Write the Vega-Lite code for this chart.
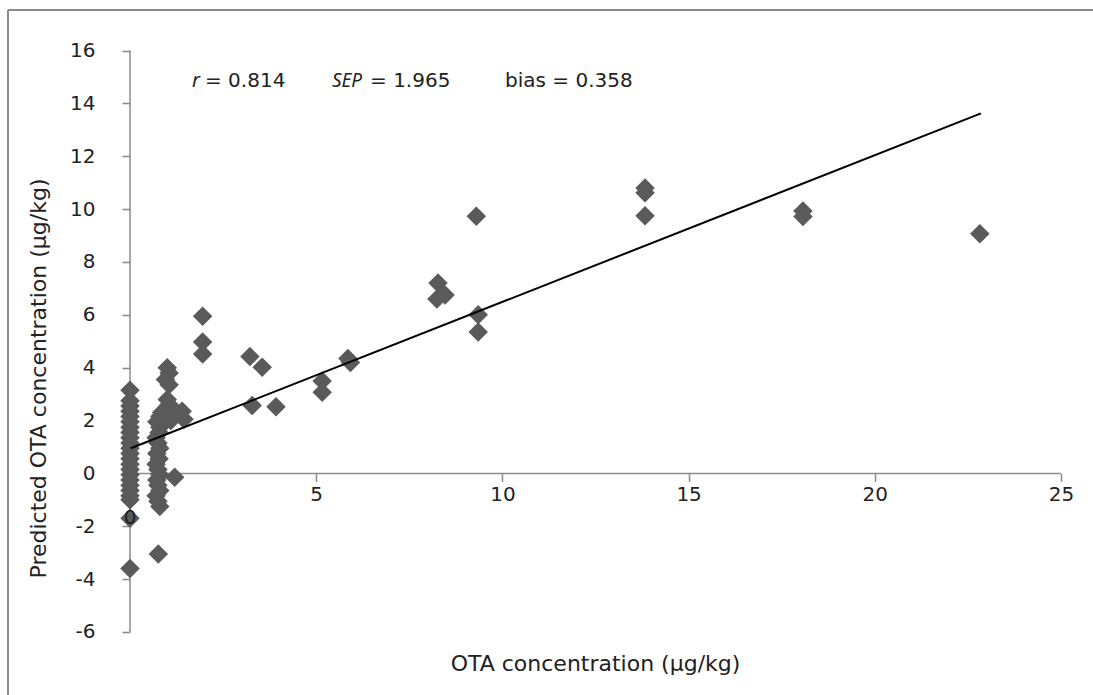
{
  "$schema": "https://vega.github.io/schema/vega-lite/v6.json",
  "autosize": "none",
  "padding": {"left": 8, "top": 10, "right": 0, "bottom": 0},
  "width": 1085,
  "height": 685,
  "background": "white",
  "config": {
    "view": {"stroke": null},
    "font": "DejaVu Sans",
    "axis": {
      "grid": false,
      "domain": false,
      "tickColor": "#8a8a8a",
      "tickWidth": 1.5,
      "tickSize": 8,
      "labelFont": "DejaVu Sans",
      "labelFontSize": 20,
      "labelColor": "#222222",
      "titleFont": "DejaVu Sans",
      "titleFontSize": 22,
      "titleFontWeight": "normal",
      "titleColor": "#222222"
    }
  },
  "datasets": {
    "samples": [
      {"ref": 0, "pred": 3.15}, {"ref": 0, "pred": 2.75}, {"ref": 0, "pred": 2.55}, {"ref": 0, "pred": 2.35},
      {"ref": 0, "pred": 2.15}, {"ref": 0, "pred": 1.95}, {"ref": 0, "pred": 1.75}, {"ref": 0, "pred": 1.55},
      {"ref": 0, "pred": 1.35}, {"ref": 0, "pred": 1.15}, {"ref": 0, "pred": 0.95}, {"ref": 0, "pred": 0.75},
      {"ref": 0, "pred": 0.55}, {"ref": 0, "pred": 0.35}, {"ref": 0, "pred": 0.15}, {"ref": 0, "pred": -0.05},
      {"ref": 0, "pred": -0.25}, {"ref": 0, "pred": -0.45}, {"ref": 0, "pred": -0.65}, {"ref": 0, "pred": -0.85},
      {"ref": 0, "pred": -1.0}, {"ref": 0, "pred": -1.7}, {"ref": 0, "pred": -3.6},
      {"ref": 0.76, "pred": -3.05}, {"ref": 0.8, "pred": -1.25}, {"ref": 0.75, "pred": -1.05}, {"ref": 0.7, "pred": -0.85},
      {"ref": 0.8, "pred": -0.65}, {"ref": 0.75, "pred": -0.45}, {"ref": 0.72, "pred": -0.25}, {"ref": 0.8, "pred": -0.05},
      {"ref": 0.75, "pred": 0.15}, {"ref": 0.7, "pred": 0.35}, {"ref": 0.78, "pred": 0.55}, {"ref": 0.72, "pred": 0.75},
      {"ref": 0.8, "pred": 0.95}, {"ref": 0.75, "pred": 1.15}, {"ref": 0.7, "pred": 1.35}, {"ref": 0.78, "pred": 1.55},
      {"ref": 0.8, "pred": 1.75}, {"ref": 0.72, "pred": 1.95}, {"ref": 0.8, "pred": 2.15}, {"ref": 0.85, "pred": 2.3},
      {"ref": 1.2, "pred": -0.15}, {"ref": 1.0, "pred": 4.0}, {"ref": 1.05, "pred": 3.8}, {"ref": 0.95, "pred": 3.55},
      {"ref": 1.05, "pred": 3.35}, {"ref": 1.0, "pred": 2.8}, {"ref": 1.05, "pred": 2.6}, {"ref": 1.15, "pred": 2.45},
      {"ref": 1.4, "pred": 2.35}, {"ref": 1.45, "pred": 2.05}, {"ref": 1.0, "pred": 2.2}, {"ref": 1.1, "pred": 2.0},
      {"ref": 0.95, "pred": 2.4}, {"ref": 1.25, "pred": 2.3},
      {"ref": 1.95, "pred": 5.95}, {"ref": 1.95, "pred": 4.97}, {"ref": 1.95, "pred": 4.52},
      {"ref": 3.22, "pred": 4.42}, {"ref": 3.55, "pred": 4.02}, {"ref": 3.28, "pred": 2.57}, {"ref": 3.92, "pred": 2.52},
      {"ref": 5.16, "pred": 3.5}, {"ref": 5.16, "pred": 3.07}, {"ref": 5.85, "pred": 4.35}, {"ref": 5.92, "pred": 4.2},
      {"ref": 8.27, "pred": 7.2}, {"ref": 8.46, "pred": 6.75}, {"ref": 8.24, "pred": 6.6},
      {"ref": 9.3, "pred": 9.73}, {"ref": 9.35, "pred": 6.0}, {"ref": 9.35, "pred": 5.35},
      {"ref": 13.83, "pred": 10.8}, {"ref": 13.83, "pred": 10.62}, {"ref": 13.83, "pred": 9.75},
      {"ref": 18.07, "pred": 9.93}, {"ref": 18.07, "pred": 9.72},
      {"ref": 22.82, "pred": 9.07}
    ],
    "fit": [
      {"ref": 0.02, "pred": 0.95},
      {"ref": 22.85, "pred": 13.62}
    ],
    "one": [{}]
  },
  "layer": [
    {
      "data": {"name": "one"},
      "mark": {"type": "rule", "color": "#8a8a8a", "strokeWidth": 2},
      "encoding": {
        "x": {"datum": -3.276, "type": "quantitative", "scale": {"domain": [-3.276, 25.859], "nice": false, "zero": false}},
        "y": {"datum": -8.384, "type": "quantitative", "scale": {"domain": [-8.384, 17.533], "nice": false, "zero": false}},
        "y2": {"datum": 17.533}
      }
    },
    {
      "data": {"name": "one"},
      "mark": {"type": "rule", "color": "#8a8a8a", "strokeWidth": 2},
      "encoding": {
        "x": {"datum": -3.276, "type": "quantitative"},
        "x2": {"datum": 25.859},
        "y": {"datum": 17.533, "type": "quantitative"}
      }
    },
    {
      "data": {"name": "one"},
      "mark": {"type": "rule", "color": "#8a8a8a", "strokeWidth": 1.5},
      "encoding": {
        "x": {"datum": 0, "type": "quantitative"},
        "y": {"datum": -6, "type": "quantitative"},
        "y2": {"datum": 16}
      }
    },
    {
      "data": {"name": "one"},
      "mark": {"type": "rule", "color": "#8a8a8a", "strokeWidth": 1.5},
      "encoding": {
        "x": {"datum": 0, "type": "quantitative"},
        "x2": {"datum": 25},
        "y": {"datum": 0, "type": "quantitative"}
      }
    },
    {
      "data": {"name": "samples"},
      "mark": {"type": "point", "shape": "diamond", "filled": true, "size": 380, "color": "#5a5a5a", "opacity": 1},
      "encoding": {
        "x": {
          "field": "ref", "type": "quantitative",
          "scale": {"domain": [-3.276, 25.859], "nice": false, "zero": false},
          "axis": {
            "orient": "bottom", "offset": -221.6,
            "values": [0, 5, 10, 15, 20, 25],
            "labelPadding": 3,
            "labelExpr": "datum.value === 0 ? '' : datum.label",
            "title": "OTA concentration (μg/kg)",
            "titleX": 587, "titleY": 190, "titleBaseline": "middle"
          }
        },
        "y": {
          "field": "pred", "type": "quantitative",
          "scale": {"domain": [-8.384, 17.533], "nice": false, "zero": false},
          "axis": {
            "orient": "left", "offset": -122,
            "values": [-6, -4, -2, 0, 2, 4, 6, 8, 10, 12, 14, 16],
            "labelPadding": 27,
            "labelExpr": "replace(datum.label, '\u2212', '-')",
            "title": "Predicted OTA concentration (μg/kg)",
            "titleX": -92, "titleY": 368, "titleAngle": -90, "titleBaseline": "middle", "titleAlign": "center"
          }
        }
      }
    },
    {
      "data": {"name": "fit"},
      "mark": {"type": "line", "color": "#000000", "strokeWidth": 2},
      "encoding": {
        "x": {"field": "ref", "type": "quantitative"},
        "y": {"field": "pred", "type": "quantitative"}
      }
    },
    {
      "data": {"name": "one"},
      "mark": {"type": "text", "text": "0", "fontSize": 20, "align": "center", "baseline": "middle", "color": "#222222"},
      "encoding": {
        "x": {"datum": 0, "type": "quantitative"},
        "y": {"datum": -1.69, "type": "quantitative"}
      }
    },
    {
      "data": {"name": "one"},
      "mark": {"type": "text", "text": "r", "font": "Noto Sans", "fontStyle": "italic", "fontSize": 20, "align": "left", "baseline": "alphabetic", "color": "#222222"},
      "encoding": {
        "x": {"datum": 1.665, "type": "quantitative"},
        "y": {"datum": 14.62, "type": "quantitative"}
      }
    },
    {
      "data": {"name": "one"},
      "mark": {"type": "text", "text": "= 0.814", "fontSize": 20, "align": "left", "baseline": "alphabetic", "color": "#222222"},
      "encoding": {
        "x": {"datum": 2.014, "type": "quantitative"},
        "y": {"datum": 14.62, "type": "quantitative"}
      }
    },
    {
      "data": {"name": "one"},
      "mark": {"type": "text", "text": "SEP", "font": "Noto Sans", "fontStyle": "italic", "fontSize": 19, "align": "left", "baseline": "alphabetic", "color": "#222222"},
      "encoding": {
        "x": {"datum": 5.424, "type": "quantitative"},
        "y": {"datum": 14.62, "type": "quantitative"}
      }
    },
    {
      "data": {"name": "one"},
      "mark": {"type": "text", "text": "= 1.965", "fontSize": 20, "align": "left", "baseline": "alphabetic", "color": "#222222"},
      "encoding": {
        "x": {"datum": 6.445, "type": "quantitative"},
        "y": {"datum": 14.62, "type": "quantitative"}
      }
    },
    {
      "data": {"name": "one"},
      "mark": {"type": "text", "text": "bias = 0.358", "fontSize": 20, "align": "left", "baseline": "alphabetic", "color": "#222222"},
      "encoding": {
        "x": {"datum": 10.07, "type": "quantitative"},
        "y": {"datum": 14.62, "type": "quantitative"}
      }
    }
  ]
}
